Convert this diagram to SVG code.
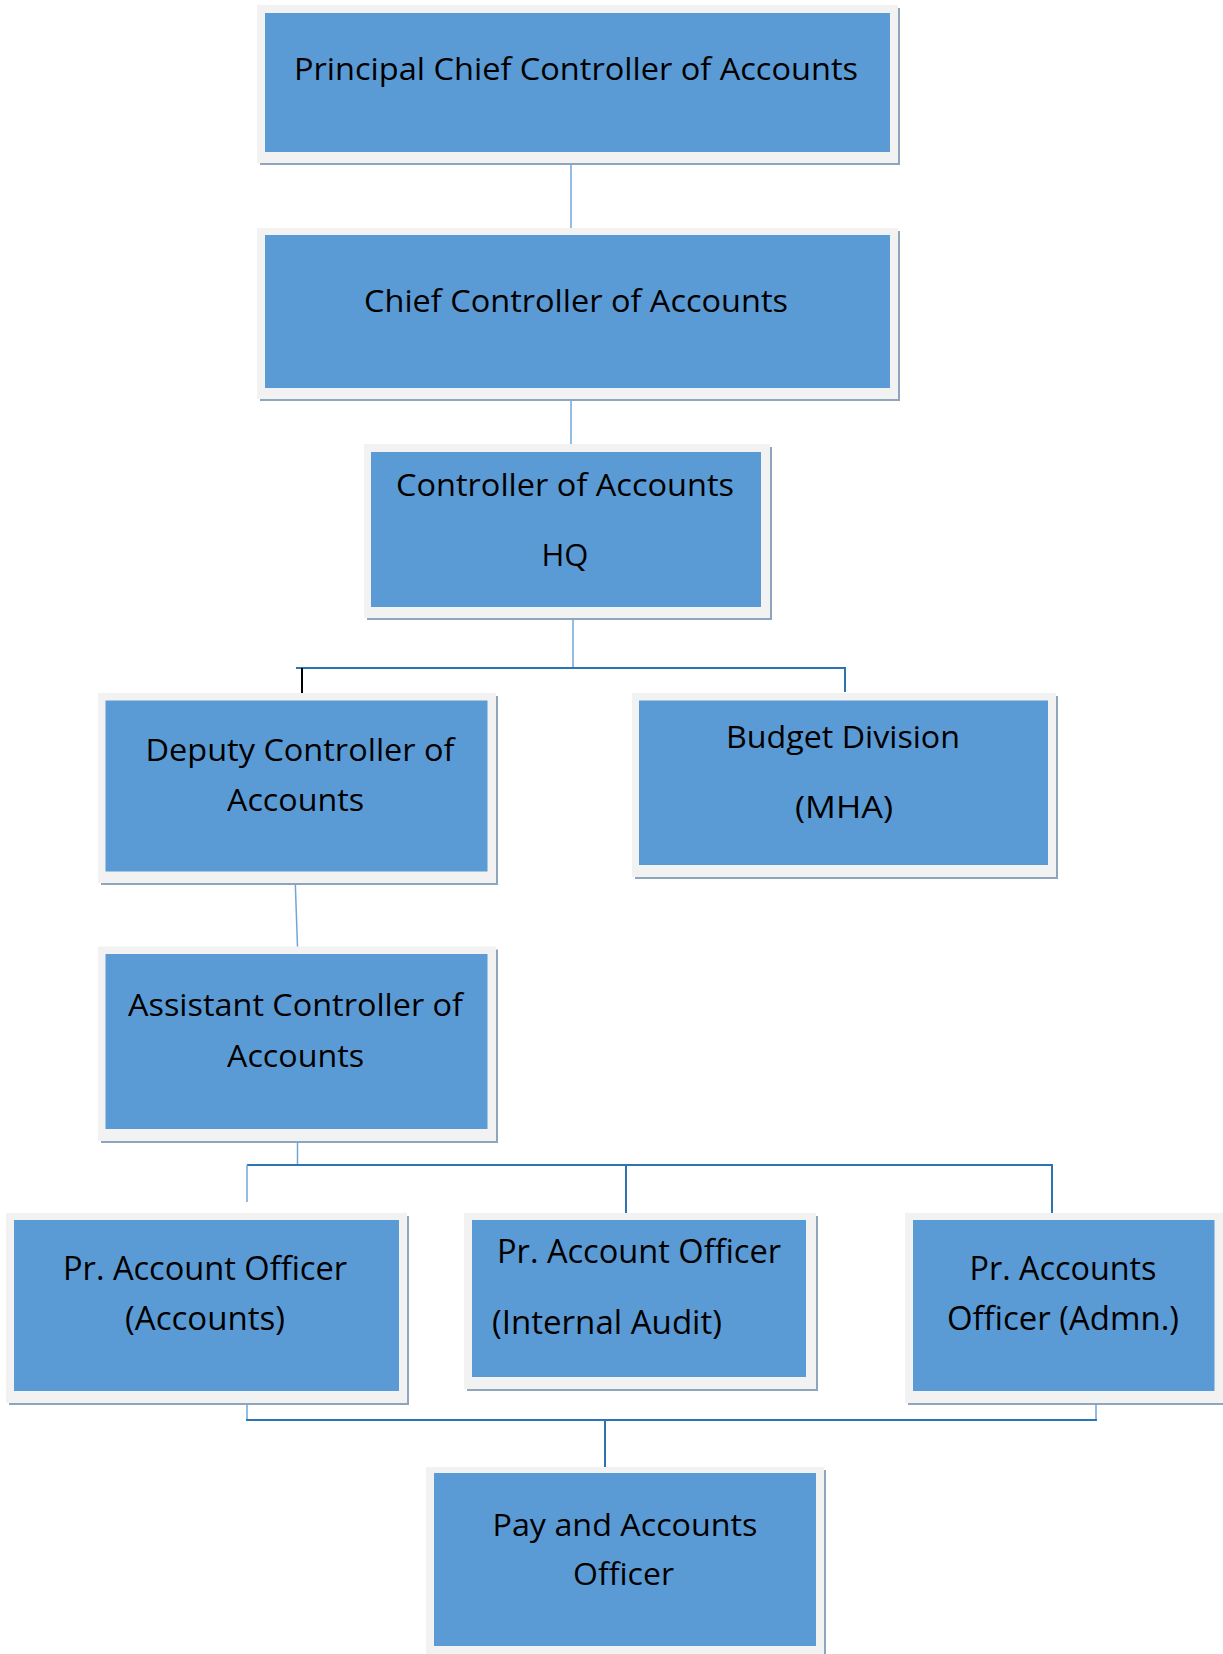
<svg xmlns="http://www.w3.org/2000/svg" width="1223" height="1654" viewBox="0 0 1223 1654">
<style>
.sh{fill:#8fa5bd}
.fr{fill:#f2f2f2}
.in{fill:#5b9bd5}
.t{font-family:"Open Sans","Noto Sans","Liberation Sans",sans-serif;font-size:31px;fill:#000;text-anchor:middle}
.tc{font-family:"Open Sans","Noto Sans","Liberation Sans",sans-serif;font-size:33px;fill:#000;text-anchor:middle}
.lt{stroke:#6fa6da;stroke-width:1.5;fill:none}
.dk{stroke:#2e74b5;stroke-width:2;fill:none}
.bk{stroke:#000;stroke-width:2;fill:none}
</style>
<rect width="1223" height="1654" fill="#fff"/>
<g id="connectors">
<line class="lt" x1="571" y1="163" x2="571" y2="228"/>
<line class="lt" x1="571" y1="399" x2="571" y2="444"/>
<line class="lt" x1="573" y1="618" x2="573" y2="668"/>
<line class="dk" x1="296" y1="668" x2="846" y2="668"/>
<line class="bk" x1="302" y1="668" x2="302" y2="694"/>
<line class="dk" x1="845" y1="668" x2="845" y2="692"/>
<line class="lt" x1="295" y1="875" x2="297.5" y2="947"/>
<line class="lt" x1="297.5" y1="1135" x2="297.5" y2="1165"/>
<line class="dk" x1="247" y1="1165" x2="1053" y2="1165"/>
<line class="lt" x1="247" y1="1165" x2="247" y2="1202"/>
<line class="dk" x1="626" y1="1165" x2="626" y2="1213"/>
<line class="dk" x1="1052" y1="1165" x2="1052" y2="1213"/>
<line class="lt" x1="247" y1="1395" x2="247" y2="1420"/>
<line class="lt" x1="1096" y1="1395" x2="1096" y2="1420"/>
<line class="dk" x1="246" y1="1420" x2="1097" y2="1420"/>
<line class="dk" x1="605" y1="1420" x2="605" y2="1467"/>
</g>
<g id="n1">
<rect class="sh" x="260" y="8" width="640" height="157"/>
<rect class="fr" x="257" y="5" width="641" height="158"/>
<rect class="in" x="265" y="13" width="625" height="139"/>
<text class="t" x="576" y="80" textLength="564" lengthAdjust="spacingAndGlyphs">Principal Chief Controller of Accounts</text>
</g>
<g id="n2">
<rect class="sh" x="260" y="231" width="640" height="170"/>
<rect class="fr" x="257" y="228" width="641" height="171"/>
<rect class="in" x="265" y="235" width="625" height="153"/>
<text class="t" x="576" y="312" textLength="424" lengthAdjust="spacingAndGlyphs">Chief Controller of Accounts</text>
</g>
<g id="n3">
<rect class="sh" x="367" y="447" width="405" height="173"/>
<rect class="fr" x="364" y="444" width="406" height="174"/>
<rect class="in" x="371" y="452" width="390" height="155"/>
<text class="t" x="565" y="496" textLength="338" lengthAdjust="spacingAndGlyphs">Controller of Accounts</text>
<text class="t" x="565" y="566" textLength="47" lengthAdjust="spacingAndGlyphs">HQ</text>
</g>
<g id="n4">
<rect class="sh" x="101" y="696" width="397" height="189"/>
<rect class="fr" x="98" y="693" width="398" height="190"/>
<rect class="in" x="105.5" y="700.5" width="382" height="171"/>
<text class="t" x="300" y="761" textLength="309" lengthAdjust="spacingAndGlyphs">Deputy Controller of</text>
<text class="t" x="295.5" y="811" textLength="137" lengthAdjust="spacingAndGlyphs">Accounts</text>
</g>
<g id="n5">
<rect class="sh" x="635" y="696" width="423" height="183"/>
<rect class="fr" x="632" y="693" width="424" height="184"/>
<rect class="in" x="639" y="700.5" width="409" height="164.5"/>
<text class="t" x="843" y="748" textLength="234" lengthAdjust="spacingAndGlyphs">Budget Division</text>
<text class="t" x="844" y="818" textLength="98" lengthAdjust="spacingAndGlyphs">(MHA)</text>
</g>
<g id="n6">
<rect class="sh" x="101" y="949.5" width="397" height="193.5"/>
<rect class="fr" x="98" y="946.5" width="398" height="194.5"/>
<rect class="in" x="105.5" y="954" width="382" height="175"/>
<text class="t" x="295.5" y="1016" textLength="335" lengthAdjust="spacingAndGlyphs">Assistant Controller of</text>
<text class="t" x="295.5" y="1067" textLength="137" lengthAdjust="spacingAndGlyphs">Accounts</text>
</g>
<g id="n7">
<rect class="sh" x="9" y="1216" width="400" height="189"/>
<rect class="fr" x="6" y="1213" width="401" height="190"/>
<rect class="in" x="14" y="1220" width="385" height="171"/>
<text class="tc" x="205" y="1280" textLength="284" lengthAdjust="spacingAndGlyphs">Pr. Account Officer</text>
<text class="tc" x="205" y="1329.5" textLength="160" lengthAdjust="spacingAndGlyphs">(Accounts)</text>
</g>
<g id="n8">
<rect class="sh" x="467" y="1216" width="351" height="175"/>
<rect class="fr" x="464" y="1213" width="352" height="176"/>
<rect class="in" x="472" y="1220" width="334" height="157"/>
<text class="tc" x="639" y="1263" textLength="284" lengthAdjust="spacingAndGlyphs">Pr. Account Officer</text>
<text class="tc" x="607" y="1334" textLength="230" lengthAdjust="spacingAndGlyphs">(Internal Audit)</text>
</g>
<g id="n9">
<rect class="sh" x="908" y="1216" width="315" height="189"/>
<rect class="fr" x="905" y="1213" width="318" height="190"/>
<rect class="in" x="913" y="1220" width="301.5" height="171"/>
<text class="tc" x="1063" y="1280" textLength="187" lengthAdjust="spacingAndGlyphs">Pr. Accounts</text>
<text class="tc" x="1063" y="1329.5" textLength="232" lengthAdjust="spacingAndGlyphs">Officer (Admn.)</text>
</g>
<g id="n10">
<rect class="sh" x="429" y="1470" width="397" height="184"/>
<rect class="fr" x="426" y="1467" width="398" height="187"/>
<rect class="in" x="434" y="1473" width="382" height="173"/>
<text class="t" x="625" y="1536" textLength="265" lengthAdjust="spacingAndGlyphs">Pay and Accounts</text>
<text class="t" x="623.5" y="1585" textLength="101" lengthAdjust="spacingAndGlyphs">Officer</text>
</g>
</svg>
